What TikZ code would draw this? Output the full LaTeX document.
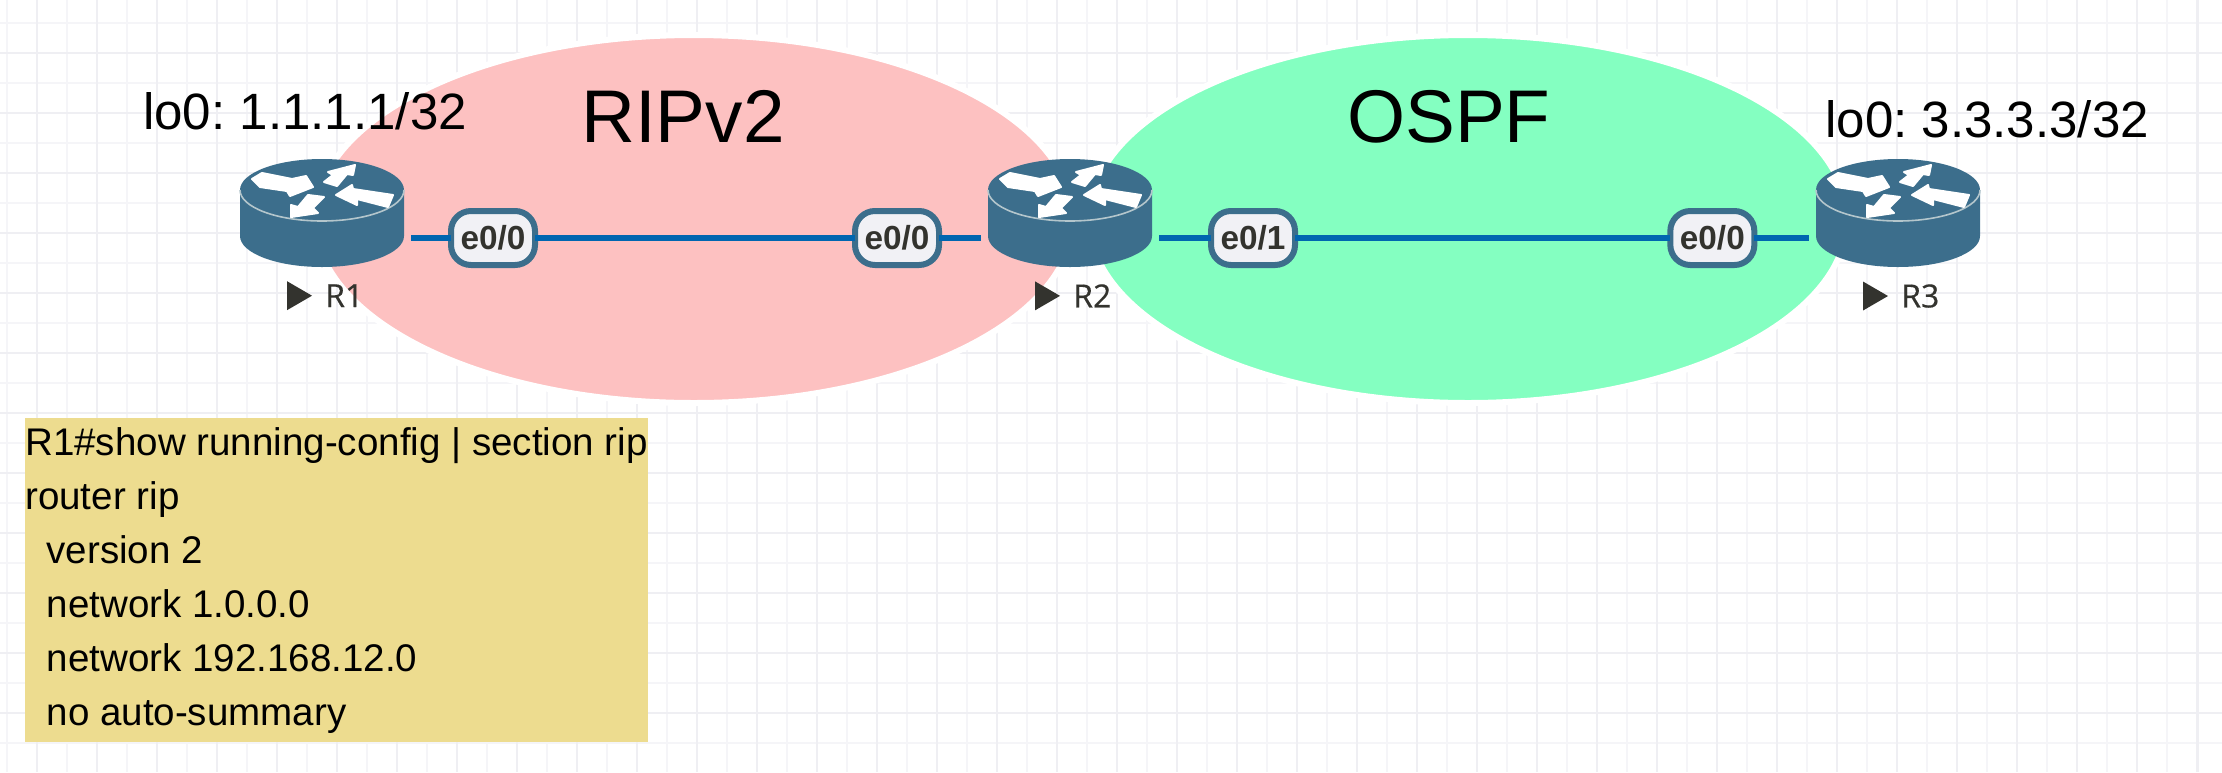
\documentclass[tikz,border=0pt]{standalone}
\usepackage{fontspec}
\setmainfont{Liberation Sans}
\newfontfamily\hostfont[FakeBold=0.4]{Open Sans}
\usetikzlibrary{positioning,calc,shapes.geometric}
\definecolor{routerblue}{HTML}{3C6E8C}
\definecolor{routerrim}{HTML}{B4C6CC}
\definecolor{linkblue}{HTML}{0066B0}
\definecolor{ripzone}{HTML}{FDC1C1}
\definecolor{ospfzone}{HTML}{84FFC1}
\definecolor{notefill}{HTML}{EDDC8F}
\definecolor{portfill}{HTML}{F1F1F5}
\definecolor{gridmajor}{HTML}{EFEFF3}
\definecolor{gridminor}{HTML}{F5F5F8}
\definecolor{labeltext}{HTML}{33332E}
\tikzset{
  gridmaj/.style={draw=gridmajor, line width=2.2pt},
  gridmin/.style={draw=gridminor, line width=1.6pt},
  zone/.style={ellipse, draw=white, line width=4.5pt, inner sep=0pt},
  title/.style={anchor=base west, inner sep=0pt, text=black, font=\fontsize{56pt}{60pt}\selectfont},
  loopback/.style={anchor=base west, inner sep=0pt, text=black, font=\fontsize{38.3pt}{42pt}\selectfont},
  routerbox/.style={rectangle, minimum width=123pt, minimum height=43.5pt, inner sep=0pt, outer sep=5.25pt},
  portlabel/.style={rectangle, rounded corners=15pt, draw=routerblue, fill=portfill, line width=4.5pt,
                    minimum width=63pt, minimum height=40.5pt, inner sep=0pt, outer sep=0pt,
                    text=labeltext, font=\fontsize{25pt}{28pt}\selectfont\bfseries},
  hostname/.style={anchor=north west, inner sep=0pt, text=labeltext, font=\fontsize{24pt}{26pt}\selectfont\hostfont},
  hostmark/.style={fill=labeltext},
  link/.style={draw=linkblue, line width=4.5pt},
  note/.style={rectangle, anchor=north west, fill=notefill, inner sep=0pt, minimum width=467pt, minimum height=243pt,
               align=left, text=black, font=\fontsize{28.9pt}{40.5pt}\selectfont},
  arrowmark/.style={fill=white, draw=white, line width=1.5pt, line join=round},
  routericon/.pic={
    \fill[routerblue] (-82,-23) -- (-82,23) arc[start angle=180, end angle=0, x radius=82, y radius=31]
      -- (82,-23) arc[start angle=0, end angle=-180, x radius=82, y radius=31] -- cycle;
    \draw[routerrim, line width=1.2pt] (-82,-23) arc[start angle=180, end angle=0, x radius=82, y radius=31];
    \path[arrowmark] (-70,-34) -- (-60,-40) -- (-30,-34) -- (-16,-37) -- (-9,-26) -- (-32,-17) -- (-35,-22) -- (-62,-26) -- cycle;
    \path[arrowmark] (2,-31) -- (11,-38) -- (6,-41) -- (33,-48) -- (31,-38) -- (25,-39) -- (15,-27) -- cycle;
    \path[arrowmark] (14,-18) -- (30,-28) -- (31,-24) -- (71,-18) -- (66,-6) -- (35,-14) -- (35,-8) -- cycle;
    \path[arrowmark] (-31,4) -- (-31,-8) -- (-24,-6) -- (-14,-18) -- (2,-16) -- (-9,-5) -- (-4,0) -- cycle;
  },
}
\begin{document}
\frenchspacing
\begin{tikzpicture}[x=0.75pt, y=-0.75pt]
\useasboundingbox (0,0) rectangle (2222,772);
\foreach \gx in {7,67,...,2222}\draw[gridmin] (\gx,0) -- (\gx,772);
\foreach \gy in {23,83,...,772}\draw[gridmin] (0,\gy) -- (2222,\gy);
\foreach \gx in {37,97,...,2222}\draw[gridmaj] (\gx,0) -- (\gx,772);
\foreach \gy in {53,113,...,772}\draw[gridmaj] (0,\gy) -- (2222,\gy);

\node[zone, fill=ripzone, minimum width=568.5pt, minimum height=276pt] (rip) at (694,219) {};
\node[zone, fill=ospfzone, minimum width=568.5pt, minimum height=276pt] (ospf) at (1468,219) {};
\node[title] (riptitle) at (581,142) {RIPv2};
\node[title] (ospftitle) at (1347,142) {OSPF};

\node[routerbox] (R1) at (322,238) {};
\node[routerbox] (R2) at (1070,238) {};
\node[routerbox] (R3) at (1898,238) {};
\node[portlabel, right=30pt of R1] (R1e0) {e0/0};
\node[portlabel, left=31.5pt of R2] (R2e0) {e0/0};
\node[portlabel, right=39pt of R2] (R2e1) {e0/1};
\node[portlabel, left=41pt of R3] (R3e0) {e0/0};
\draw[link] (R1) -- (R1e0) -- (R2e0) -- (R2);
\draw[link] (R2) -- (R2e1) -- (R3e0) -- (R3);

\foreach \r in {R1,R2,R3}{
  \pic[shift={(0,-25)}] at (\r) {routericon};
  \node[hostname] (\r-name) at ($(\r.south)+(3,10)$) {\r};
  \fill[hostmark] ($(\r-name.west)+(-13,0)$) -- ++(-25,-14.5) -- ++(0,29) -- cycle;
}

\node[loopback] (R1lo) at (143,129) {lo0: 1.1.1.1/32};
\node[loopback] (R3lo) at (1825,137) {lo0: 3.3.3.3/32};

\node[note] (config) at (25,418) {R1\#show running-config | section rip\\
router rip\\
\hspace*{16pt}version 2\\
\hspace*{16pt}network 1.0.0.0\\
\hspace*{16pt}network 192.168.12.0\\
\hspace*{16pt}no auto-summary};
\end{tikzpicture}
\end{document}
